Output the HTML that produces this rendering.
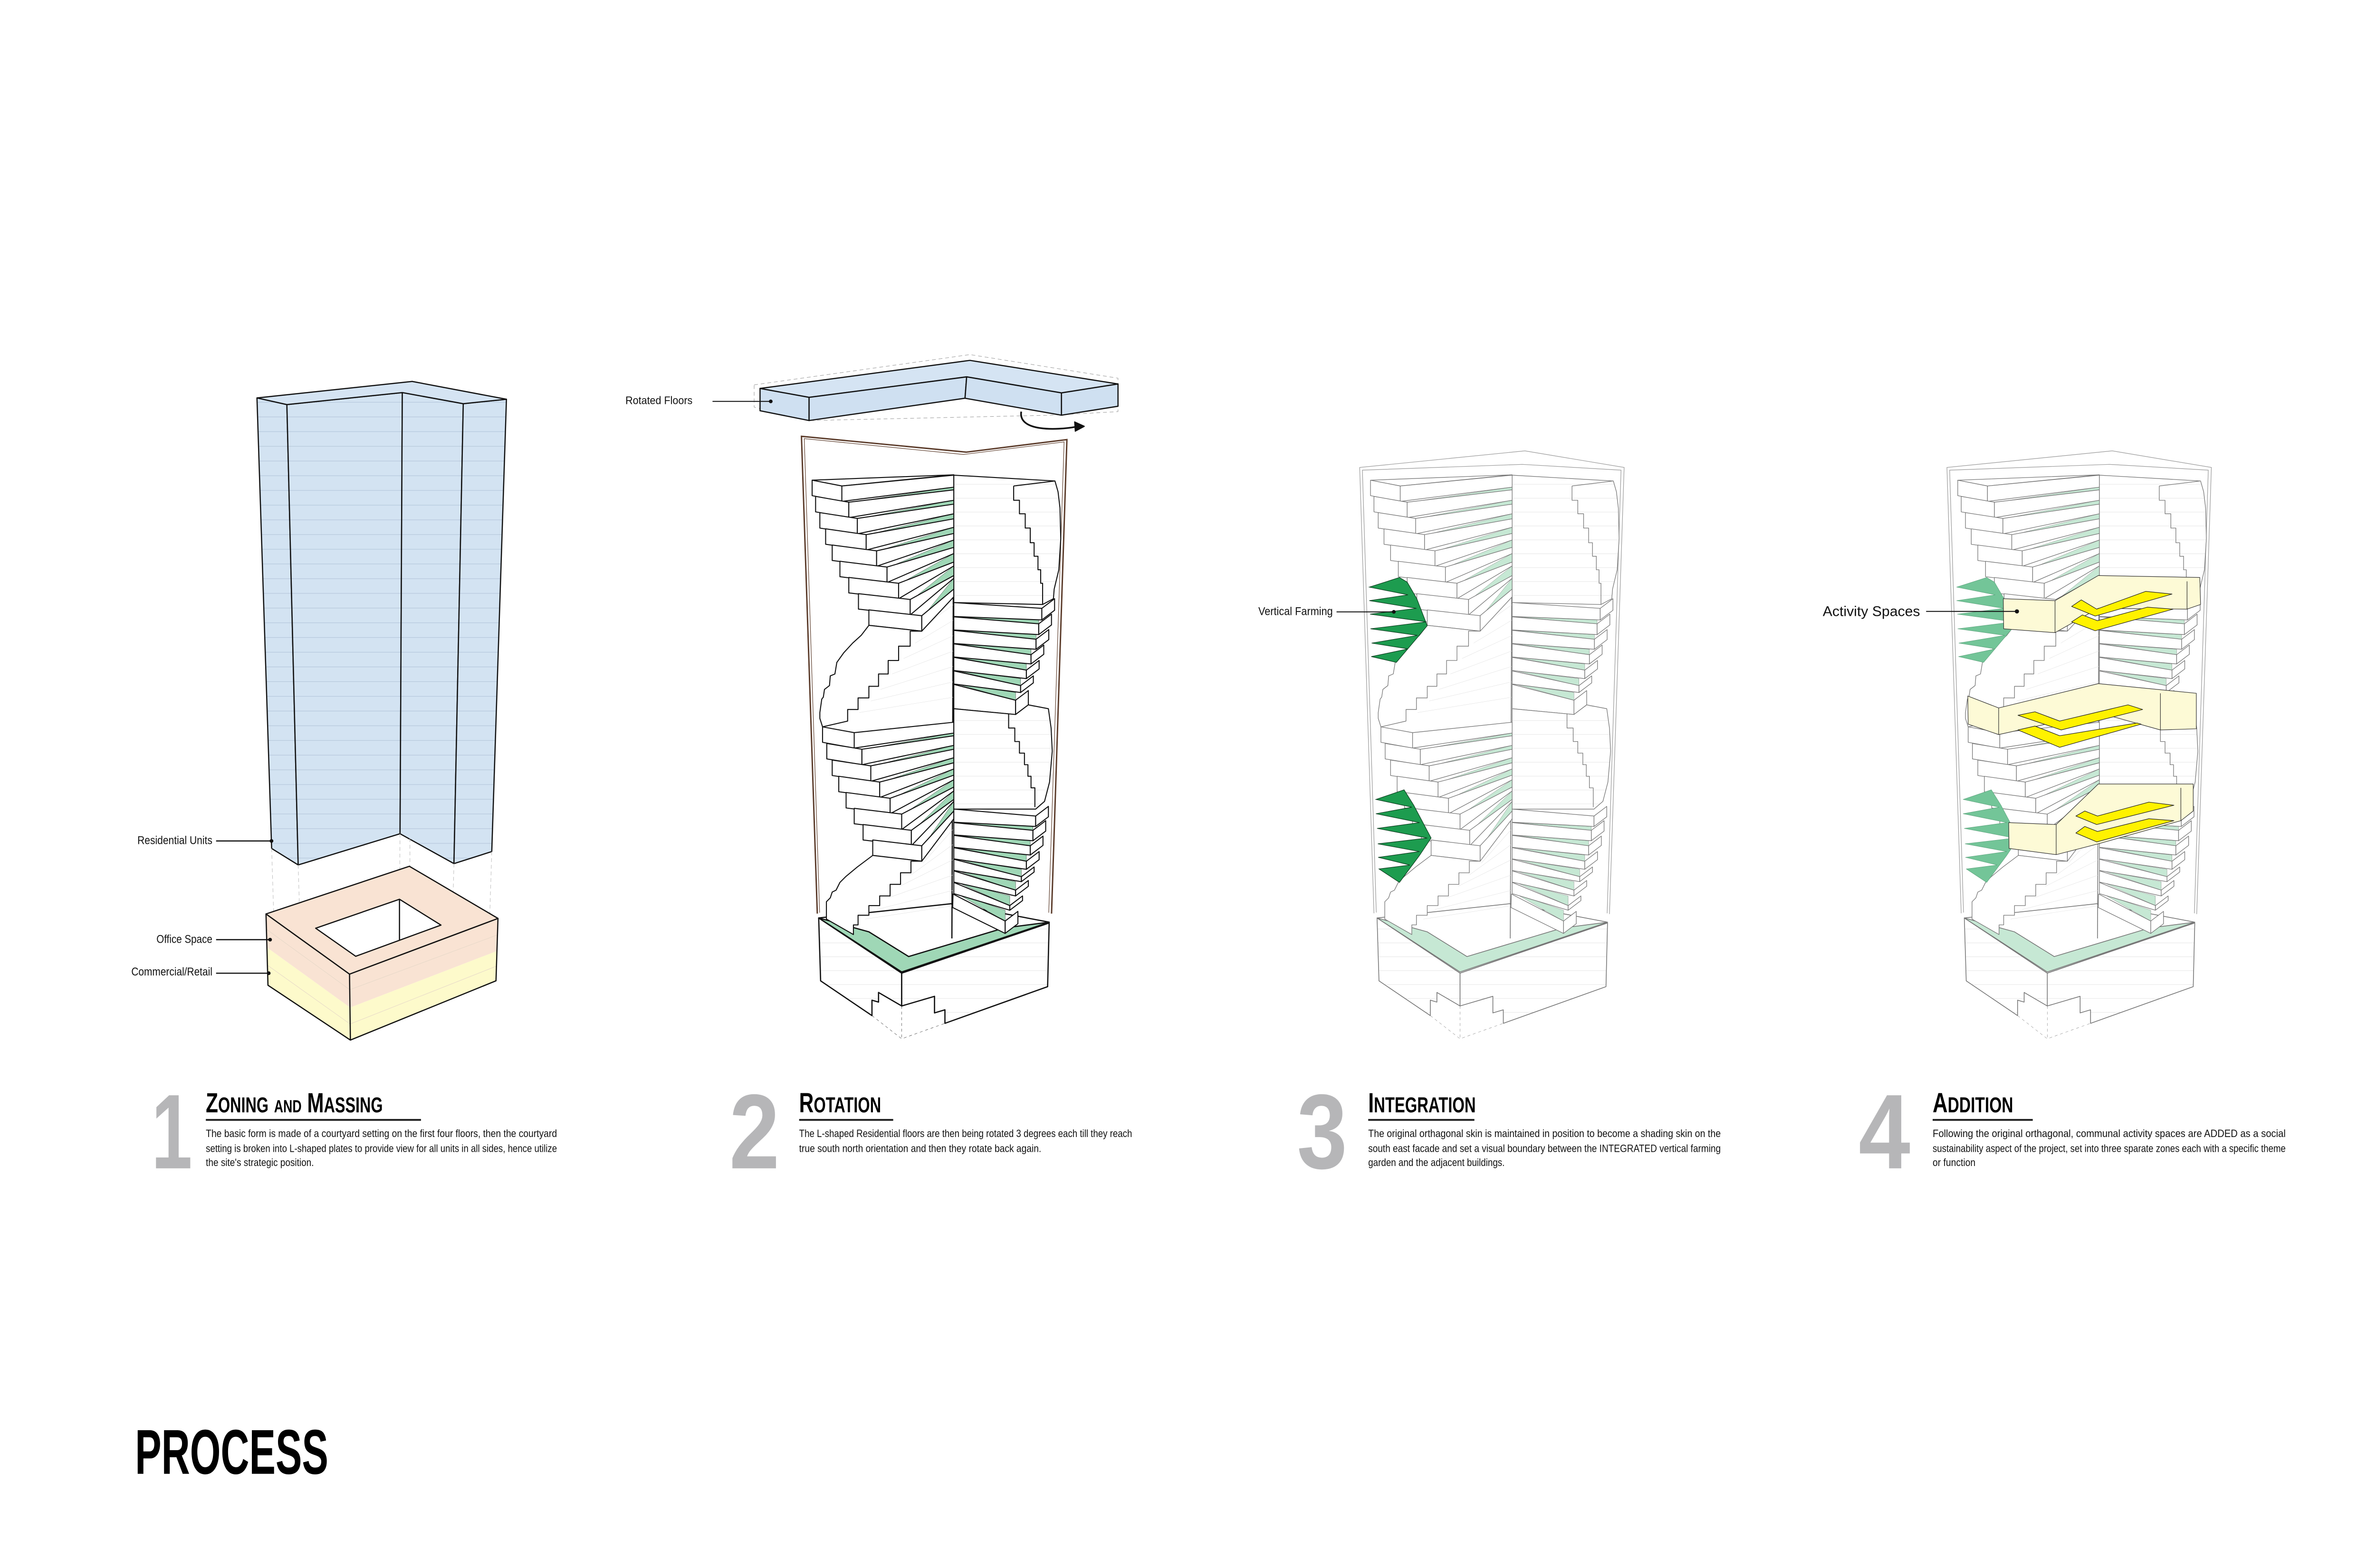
<!DOCTYPE html>
<html><head><meta charset="utf-8"><style>
html,body{margin:0;padding:0;background:#fff}
svg{display:block}
.nar{font-family:"Liberation Sans Narrow","Liberation Sans",sans-serif}
.lab{font-family:"Liberation Sans",sans-serif;fill:#111}
.gr{fill:var(--g,#c6e8d4)}
</style></head><body>
<svg width="5100" height="3300" viewBox="0 0 5100 3300" xmlns="http://www.w3.org/2000/svg">
<defs>
<pattern id="bl" patternUnits="userSpaceOnUse" width="40" height="33"><rect width="40" height="33" fill="#d3e3f2"/><line x1="0" y1="0.5" x2="40" y2="0.5" stroke="#b4c6da" stroke-width="1.5"/></pattern>
<pattern id="pl" patternUnits="userSpaceOnUse" width="40" height="36"><rect width="40" height="36" fill="#fff"/><line x1="0" y1="0.5" x2="40" y2="0.5" stroke="#e2e2e2" stroke-width="1.2"/></pattern>

<g id="T" stroke-linejoin="round">
  <polygon points="310,1232 525,1375 525,1460 465,1425 465,1450 448,1445 448,1485 315,1395" fill="url(#pl)" vector-effect="non-scaling-stroke"/>
  <polygon points="525,1375 907,1245 903,1410 637,1505 637,1470 610,1478 610,1435 525,1460" fill="url(#pl)" vector-effect="non-scaling-stroke"/>
  <polygon points="310,1232 655,1195 907,1243 525,1375" fill="#fff" vector-effect="non-scaling-stroke"/>
  <polygon class="gr" points="310,1232 525,1372 907,1243 790,1258 543,1332 440,1268" vector-effect="non-scaling-stroke"/>
  <path d="M448,1485 L525,1545 L637,1505 M525,1460 L525,1545" fill="none" stroke-dasharray="6,6" stroke-width="0.6" vector-effect="non-scaling-stroke"/>
  <line x1="660" y1="85" x2="655" y2="1285" vector-effect="non-scaling-stroke"/>
  <path d="M660,420 L590,470 M660,460 L560,520 M660,500 L530,560 M660,540 L500,600 M660,580 L470,640 M660,620 L445,670 M660,660 L415,700 M660,1000 L580,1090 M660,1040 L550,1120 M660,1080 L520,1150 M660,1120 L490,1180 M660,1160 L460,1210 M660,1200 L430,1235" stroke="#ddd" stroke-width="0.6" fill="none" vector-effect="non-scaling-stroke"/>
  <g class="gr" stroke-width="0.6">
  <polygon points="393,155 660,123 660,116"/><polygon points="415,197 660,160 660,150"/><polygon points="438,239 660,198 660,185"/><polygon points="465,281 660,236 660,220"/><polygon points="492,323 660,272 660,253"/><polygon points="522,365 660,310 660,288"/><polygon points="552,407 660,345 660,320"/><polygon points="582,449 660,380 660,352"/>
  <polygon points="427,795 660,760 660,753"/><polygon points="450,838 660,795 660,785"/><polygon points="473,880 660,830 660,817"/><polygon points="500,922 660,862 660,846"/><polygon points="530,963 660,893 660,874"/><polygon points="555,1005 660,925 660,903"/><polygon points="582,1045 660,955 660,930"/>
  <polygon points="670,452 880,470 880,460"/><polygon points="670,487 873,510 873,498"/><polygon points="670,522 860,550 860,536"/><polygon points="670,557 848,590 848,574"/><polygon points="670,592 833,630 833,612"/><polygon points="670,627 820,668 820,648"/>
  <polygon points="670,985 865,1005 865,995"/><polygon points="670,1018 858,1045 858,1032"/><polygon points="670,1050 848,1085 848,1069"/><polygon points="670,1080 835,1125 835,1106"/><polygon points="670,1110 820,1160 820,1138"/><polygon points="670,1140 805,1200 805,1175"/><polygon points="670,1170 793,1240 793,1212"/>
  </g>
  <g fill="#fff" vector-effect="non-scaling-stroke">
  <polygon points="293,98 660,84 370,113"/>
  <polygon points="293,98 370,113 370,153 293,138"/><polygon points="370,113 660,85 660,116 370,153"/>
  <polygon points="302,140 388,155 388,195 302,180"/><polygon points="388,155 660,123 660,150 388,195"/>
  <polygon points="313,182 410,197 410,237 313,222"/><polygon points="410,197 660,160 660,185 410,237"/>
  <polygon points="328,224 433,239 433,279 328,264"/><polygon points="433,239 660,198 660,220 433,279"/>
  <polygon points="345,266 460,281 460,321 345,306"/><polygon points="460,281 660,236 660,253 460,321"/>
  <polygon points="365,308 487,323 487,363 365,348"/><polygon points="487,323 660,272 660,288 487,363"/>
  <polygon points="388,350 517,365 517,405 388,390"/><polygon points="517,365 660,310 660,320 517,405"/>
  <polygon points="413,392 547,407 547,447 413,432"/><polygon points="547,407 660,345 660,352 547,447"/>
  <polygon points="440,434 577,449 577,489 440,474"/><polygon points="577,449 660,380 660,400 577,489"/>
  <polygon points="577,489 547,489 547,528 517,528 517,565 490,565 490,600 465,600 465,632 440,632 440,662 412,662 412,692 385,692 385,722 320,737 313,715 313,700 318,665 322,660 325,640 338,630 340,605 352,600 357,570 375,545 398,520 420,500 440,474"/>
  <polygon points="320,737 402,752 402,792 320,777"/><polygon points="402,752 660,725 660,753 402,792"/>
  <polygon points="331,780 422,795 422,835 331,820"/><polygon points="422,795 660,760 660,785 422,835"/>
  <polygon points="345,823 445,838 445,878 345,863"/><polygon points="445,838 660,795 660,817 445,878"/>
  <polygon points="362,865 468,880 468,920 362,905"/><polygon points="468,880 660,830 660,846 468,920"/>
  <polygon points="381,907 495,922 495,962 381,947"/><polygon points="495,922 660,862 660,874 495,962"/>
  <polygon points="402,948 525,963 525,1003 402,988"/><polygon points="525,963 660,893 660,903 525,1003"/>
  <polygon points="425,990 550,1005 550,1045 425,1030"/><polygon points="550,1005 660,925 660,930 550,1045"/>
  <polygon points="450,1030 577,1045 577,1085 450,1070"/><polygon points="577,1045 660,955 660,975 577,1085"/>
  <polygon points="577,1085 549,1085 549,1115 522,1115 522,1145 495,1145 495,1175 468,1175 468,1200 440,1200 440,1225 412,1225 412,1250 400,1250 400,1275 330,1235 330,1190 340,1180 345,1165 355,1160 365,1140 380,1125 410,1100 450,1070"/>
  </g>
  <polygon points="660,85 922,100 930,128 935,170 937,250 932,330 920,380 918,405 890,420 660,415" fill="url(#pl)"/>
  <path d="M815,113 L922,100 M815,113 L815,150 L830,150 L830,185 L845,185 L845,222 L858,222 L858,260 L868,260 L868,295 L878,295 L878,330 L885,330 L885,365 L890,365 L890,420" fill="none"/>
  <g fill="#fff">
  <polygon points="660,415 888,430 888,460 660,451"/><polygon points="888,430 921,405 921,435 888,460"/>
  <polygon points="660,452 880,470 880,498 660,486"/><polygon points="880,470 913,445 913,473 880,498"/>
  <polygon points="660,487 873,510 873,536 660,521"/><polygon points="873,510 906,485 906,511 873,536"/>
  <polygon points="660,522 860,550 860,574 660,556"/><polygon points="860,550 893,525 893,549 860,574"/>
  <polygon points="660,557 848,590 848,612 660,591"/><polygon points="848,590 881,565 881,587 848,612"/>
  <polygon points="660,592 833,630 833,648 660,626"/><polygon points="833,630 866,605 866,623 833,648"/>
  <polygon points="660,627 820,668 820,705 660,690"/><polygon points="820,668 853,643 853,680 820,705"/>
  </g>
  <polygon points="660,690 820,705 853,680 905,690 912,740 915,800 908,880 895,930 872,950 660,950" fill="url(#pl)"/>
  <path d="M802,703 L802,740 L818,740 L818,775 L830,775 L830,805 L843,805 L843,835 L852,835 L852,865 L860,865 L860,895 L870,895 L870,945" fill="none"/>
  <g fill="#fff">
  <polygon points="660,950 872,968 872,995 660,984"/><polygon points="872,968 905,943 905,970 872,995"/>
  <polygon points="660,985 865,1005 865,1032 660,1017"/><polygon points="865,1005 898,980 898,1007 865,1032"/>
  <polygon points="660,1018 858,1045 858,1069 660,1049"/><polygon points="858,1045 891,1020 891,1044 858,1069"/>
  <polygon points="660,1050 848,1085 848,1106 660,1079"/><polygon points="848,1085 881,1060 881,1081 848,1106"/>
  <polygon points="660,1080 835,1125 835,1138 660,1109"/><polygon points="835,1125 868,1100 868,1113 835,1138"/>
  <polygon points="660,1110 820,1160 820,1175 660,1139"/><polygon points="820,1160 853,1135 853,1150 820,1175"/>
  <polygon points="660,1140 805,1200 805,1212 660,1169"/><polygon points="805,1200 838,1175 838,1187 805,1212"/>
  <polygon points="658,1170 793,1240 793,1272 657,1205"/><polygon points="793,1240 826,1215 826,1247 793,1272"/>
  </g>
</g>

<g id="finsU">
<polygon points="368,350 290,375 390,395 290,410 412,430 292,445 438,465 293,483 415,500 296,520 390,535 295,555 360,570 415,505 440,475 413,405 388,362"/>
</g>
<g id="finsL">
<polygon points="380,900 307,925 400,945 307,962 420,985 310,1000 440,1025 312,1040 420,1060 313,1075 395,1095 315,1105 368,1140 420,1070 450,1025 405,940"/>
</g>
</defs>

<g transform="scale(0.98)">
<!-- ================= TOWER 1 ================= -->
<g transform="matrix(0.606,0,0,0.957,250,800)" stroke="#111" stroke-width="2.5" stroke-linejoin="round">
  <polygon points="498,57 604,72 644,1105 550,1068" fill="url(#bl)" vector-effect="non-scaling-stroke"/>
  <polygon points="604,72 1013,45 1005,1035 644,1105" fill="url(#bl)" vector-effect="non-scaling-stroke"/>
  <polygon points="1013,45 1229,70 1196,1102 1005,1035" fill="url(#bl)" vector-effect="non-scaling-stroke"/>
  <polygon points="1229,70 1382,60 1330,1075 1196,1102" fill="url(#bl)" vector-effect="non-scaling-stroke"/>
  <polygon points="498,57 1048,20 1382,60 1229,70 1013,45 604,72" fill="#d5e4f3" vector-effect="non-scaling-stroke"/>
  <path d="M550,1068 L557,1210 M644,1105 L650,1230 M1005,1035 L1003,1180 M1040,1045 L1040,1108 M1196,1102 L1190,1245 M1330,1075 L1323,1215" stroke="#bbb" stroke-width="1" stroke-dasharray="8,6" fill="none" vector-effect="non-scaling-stroke"/>
  <polygon points="530,1215 826,1350 828,1425 533,1290" fill="#f9e3d3" stroke="none"/>
  <polygon points="533,1290 828,1425 829,1498 537,1375" fill="#fdfacb" stroke="none"/>
  <polygon points="826,1350 1352,1225 1349,1298 828,1425" fill="#f9e3d3" stroke="none"/>
  <polygon points="828,1425 1349,1298 1345,1365 829,1498" fill="#fdfacb" stroke="none"/>
  <path d="M533,1250 L827,1385 L1350,1262 M535,1330 L828,1462 L1347,1332" stroke="#e6d8c8" stroke-width="1" fill="none" vector-effect="non-scaling-stroke"/>
  <path d="M530,1215 L826,1350 L829,1498 L537,1375 Z M826,1350 L1352,1225 L1345,1365 L829,1498" fill="none" vector-effect="non-scaling-stroke"/>
  <path d="M530,1215 L1038,1108 L1352,1225 L826,1350 Z M706,1247 L1003,1182 L1150,1240 L848,1310 Z" fill="#f9e3d3" fill-rule="evenodd" vector-effect="non-scaling-stroke"/>
  <line x1="1003" y1="1182" x2="1003" y2="1273" vector-effect="non-scaling-stroke"/>
</g>
<g class="lab" font-size="25">
  <text x="295" y="1813" textLength="161" lengthAdjust="spacingAndGlyphs">Residential Units</text>
  <text x="336" y="2025" textLength="120" lengthAdjust="spacingAndGlyphs">Office Space</text>
  <text x="282" y="2095" textLength="174" lengthAdjust="spacingAndGlyphs">Commercial/Retail</text>
</g>
<g stroke="#111" stroke-width="2.5">
  <line x1="464" y1="1806" x2="583" y2="1806"/><line x1="464" y1="2018" x2="580" y2="2018"/><line x1="464" y1="2090" x2="577" y2="2090"/>
</g>
<g fill="#111"><circle cx="583" cy="1806" r="4"/><circle cx="580" cy="2018" r="4"/><circle cx="577" cy="2090" r="4"/></g>

<!-- ================= TOWER 2 ================= -->
<g transform="matrix(0.702,0,0,0.957,1300,750)" stroke="#111" stroke-width="2.5" stroke-linejoin="round">
  <polygon points="455,80 1115,12 1568,65 1568,140 1365,148 625,160 455,130" fill="none" stroke="#999" stroke-width="1" stroke-dasharray="8,6" vector-effect="non-scaling-stroke"/>
  <polygon points="473,88 1115,25 1568,78 1395,98 1105,62 623,108" fill="#d5e4f3" vector-effect="non-scaling-stroke"/>
  <polygon points="473,88 623,108 623,160 473,138" fill="#cfe0f1" vector-effect="non-scaling-stroke"/>
  <polygon points="623,108 1105,62 1100,110 623,160" fill="#cfe0f1" vector-effect="non-scaling-stroke"/>
  <polygon points="1105,62 1395,98 1395,148 1100,110" fill="#cfe0f1" vector-effect="non-scaling-stroke"/>
  <polygon points="1395,98 1568,78 1568,128 1395,148" fill="#cfe0f1" vector-effect="non-scaling-stroke"/>
  <path d="M1272,140 C1262,185 1380,182 1440,174" fill="none" stroke-width="3.5" vector-effect="non-scaling-stroke"/>
  <polygon points="1435,163 1465,173 1437,184" fill="#111"/>
</g>
<path d="M1755,1962 L1721,937 L2075,971 L2291,944 L2258,1962" fill="none" stroke="#5b3b2a" stroke-width="3"/>
<path d="M1760,1960 L1727,942 L2069,976 L2285,949 L2252,1960" fill="none" stroke="#5b3b2a" stroke-width="1.2"/>
<text class="lab" x="1343" y="868" font-size="24" textLength="144" lengthAdjust="spacingAndGlyphs">Rotated Floors</text>
<line x1="1530" y1="862" x2="1654" y2="862" stroke="#111" stroke-width="2"/>
<circle cx="1655" cy="862" r="4" fill="#111"/>
<use href="#T" transform="translate(1501,950) scale(0.829)" stroke="#111" stroke-width="2.6" style="--g:#9fd7b6"/>

<!-- ================= TOWER 3 ================= -->
<g transform="translate(2700,950) scale(0.829)" fill="none" stroke="#999" stroke-width="1.5">
  <path d="M302,1220 L265,65 L693,22 L950,65 L912,1222"/>
  <path d="M308,1218 L272,72 L686,57 L942,72 L906,1220"/>
</g>
<use href="#T" transform="translate(2700,950) scale(0.829)" stroke="#777" stroke-width="1.6" style="--g:#c6e8d4"/>
<g transform="translate(2700,950) scale(0.829)" fill="#1d9c4f" stroke="#0d3d1f" stroke-width="1.5">
  <use href="#finsU"/><use href="#finsL"/>
</g>
<text class="lab" x="2702" y="1321" font-size="25" textLength="160" lengthAdjust="spacingAndGlyphs">Vertical Farming</text>
<line x1="2870" y1="1314" x2="2992" y2="1314" stroke="#111" stroke-width="2"/>
<circle cx="2993" cy="1314" r="4" fill="#111"/>

<!-- ================= TOWER 4 ================= -->
<g transform="translate(3961,950) scale(0.829)" fill="none" stroke="#999" stroke-width="1.5">
  <path d="M302,1220 L265,65 L693,22 L950,65 L912,1222"/>
  <path d="M308,1218 L272,72 L686,57 L942,72 L906,1220"/>
</g>
<use href="#T" transform="translate(3961,950) scale(0.829)" stroke="#777" stroke-width="1.6" style="--g:#c6e8d4"/>
<g transform="translate(3961,950) scale(0.829)" stroke-linejoin="round">
  <g fill="#73c598" stroke="#5aa07a" stroke-width="1"><use href="#finsU"/><use href="#finsL"/></g>
  <g fill="#fdfad6" stroke="#333" stroke-width="1.5">
    <polygon points="411,405 545,410 657,345 920,350 922,420 887,432 657,430 545,493 412,483"/>
    <polygon points="319,657 399,688 657,625 911,650 911,742 818,745 657,700 399,757 320,730"/>
    <polygon points="425,985 548,990 657,885 903,885 903,955 871,980 657,1040 548,1068 426,1052"/>
  </g>
  <path d="M545,410 L545,493 M887,360 L887,432 M399,688 L399,757 M818,650 L818,745 M548,990 L548,1068 M871,895 L871,980" stroke="#333" stroke-width="1.5" fill="none"/>
  <g fill="#fff200" stroke="#222" stroke-width="1.5">
    <polygon points="588,425 613,408 653,432 780,386 848,393 649,450"/>
    <polygon points="588,465 616,447 655,462 784,427 851,432 649,488"/>
    <polygon points="449,707 493,698 557,722 734,680 772,692 561,745"/>
    <polygon points="449,745 493,735 557,760 757,727 768,730 557,790"/>
    <polygon points="599,968 622,955 655,968 788,932 853,940 653,990"/>
    <polygon points="599,1012 622,995 655,1008 788,975 853,980 653,1035"/>
  </g>
</g>
<text class="lab" x="3914" y="1323" font-size="30" textLength="209" lengthAdjust="spacingAndGlyphs">Activity Spaces</text>
<line x1="4136" y1="1313" x2="4330" y2="1313" stroke="#111" stroke-width="2"/>
<circle cx="4331" cy="1313" r="4.5" fill="#111"/>

<!-- ================= TEXT ================= -->
<g class="nar" font-weight="bold" fill="#b6b6b8" font-size="228">
  <text x="325" y="2509" textLength="88" lengthAdjust="spacingAndGlyphs">1</text>
  <text x="1566" y="2509" textLength="108" lengthAdjust="spacingAndGlyphs">2</text>
  <text x="2785" y="2509" textLength="108" lengthAdjust="spacingAndGlyphs">3</text>
  <text x="3991" y="2509" textLength="111" lengthAdjust="spacingAndGlyphs">4</text>
</g>
<g class="nar" font-weight="bold" fill="#000" font-size="60">
  <text x="442" y="2389" textLength="380" lengthAdjust="spacingAndGlyphs">Z<tspan font-size="46">ONING</tspan> <tspan font-size="38">AND</tspan> M<tspan font-size="46">ASSING</tspan></text>
  <text x="1716" y="2389" textLength="176" lengthAdjust="spacingAndGlyphs">R<tspan font-size="46">OTATION</tspan></text>
  <text x="2938" y="2389" textLength="231" lengthAdjust="spacingAndGlyphs">I<tspan font-size="46">NTEGRATION</tspan></text>
  <text x="4150" y="2389" textLength="173" lengthAdjust="spacingAndGlyphs">A<tspan font-size="46">DDITION</tspan></text>
</g>
<g fill="#222">
  <rect x="442" y="2403" width="462" height="4"/>
  <rect x="1716" y="2403" width="202" height="4"/>
  <rect x="2938" y="2403" width="228" height="4"/>
  <rect x="4150" y="2403" width="215" height="4"/>
</g>
<g class="nar" fill="#111" font-size="23">
  <text x="442" y="2442" textLength="754" lengthAdjust="spacingAndGlyphs">The basic form is made of a courtyard setting on the first four floors, then the courtyard</text>
  <text x="442" y="2474" textLength="754" lengthAdjust="spacingAndGlyphs">setting is broken into L-shaped plates to provide view for all units in all sides, hence utilize</text>
  <text x="442" y="2504" textLength="232" lengthAdjust="spacingAndGlyphs">the site's strategic position.</text>

  <text x="1716" y="2442" textLength="715" lengthAdjust="spacingAndGlyphs">The L-shaped Residential floors are then being rotated 3 degrees each till they reach</text>
  <text x="1716" y="2474" textLength="520" lengthAdjust="spacingAndGlyphs">true south north orientation and then they rotate back again.</text>

  <text x="2938" y="2442" textLength="757" lengthAdjust="spacingAndGlyphs">The original orthagonal skin is maintained in position to become a shading skin on the</text>
  <text x="2938" y="2474" textLength="757" lengthAdjust="spacingAndGlyphs">south east facade and set a visual boundary between the INTEGRATED vertical farming</text>
  <text x="2938" y="2504" textLength="293" lengthAdjust="spacingAndGlyphs">garden and the adjacent buildings.</text>

  <text x="4150" y="2442" textLength="758" lengthAdjust="spacingAndGlyphs">Following the original orthagonal, communal activity spaces are ADDED as a social</text>
  <text x="4150" y="2474" textLength="758" lengthAdjust="spacingAndGlyphs">sustainability aspect of the project, set into three sparate zones each with a specific theme</text>
  <text x="4150" y="2504" textLength="92" lengthAdjust="spacingAndGlyphs">or function</text>
</g>
<text class="nar" x="290" y="3165" font-size="136" font-weight="bold" fill="#000" textLength="415" lengthAdjust="spacingAndGlyphs">PROCESS</text>
</g>
</svg>
</body></html>
